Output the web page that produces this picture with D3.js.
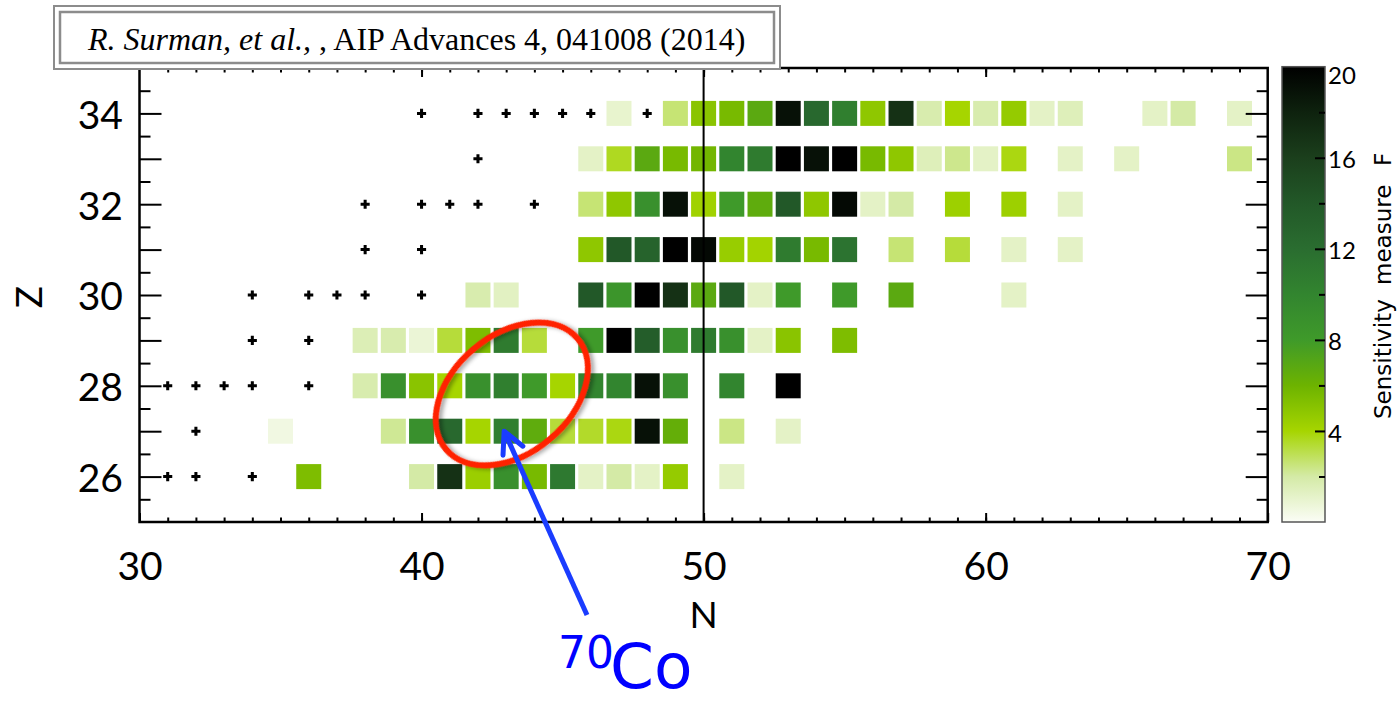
<!DOCTYPE html>
<html>
<head>
<meta charset="utf-8">
<style>
  body { margin: 0; background: #fff; }
  svg text { font-family: Lato, "DejaVu Sans", sans-serif; fill: #000; }
</style>
</head>
<body>
<div id="chart"></div>
<script src="https://d3js.org/d3.v7.min.js"></script>
<script>

    // sensitivity measure F, one list per proton number Z, as [N, F]
    var z34 = [[47,1.0],[49,2.6],[50,5.0],[51,5.6],[52,6.8],[53,19],[54,12.5],[55,10.5],[56,4.8],[57,17],
               [58,1.8],[59,4.0],[60,1.8],[61,4.6],[62,1.2],[63,1.5],[66,1.2],[67,2.0],[69,1.2]];
    var z33 = [[46,1.2],[47,3.6],[48,6.8],[49,5.6],[50,5.8],[51,10],[52,10.8],[53,20],[54,19],[55,20],
               [56,5.6],[57,4.8],[58,1.5],[59,2.3],[60,1.2],[61,3.8],[63,1.2],[65,1.2],[69,2.4]];
    var z32 = [[46,2.6],[47,4.8],[48,9],[49,19],[50,4.2],[51,8],[52,6.6],[53,14],[54,4.8],[55,19.5],
               [56,1.2],[57,2.0],[59,4.3],[61,4.3],[63,1.2]];
    var z31 = [[46,4.8],[47,14],[48,13],[49,20],[50,19.5],[51,4.5],[52,4.1],[53,10.8],[54,5.6],[55,11.5],
               [57,2.6],[59,3.3],[61,1.2],[63,1.2]];
    var z30 = [[42,1.8],[43,1.3],[46,14],[47,8.5],[48,20],[49,17],[50,6.8],[51,14],[52,1.2],[53,8],
               [55,8],[57,6.8],[61,1.2]];
    var z29 = [[38,1.6],[39,1.8],[40,0.8],[41,3.3],[42,5.4],[43,10.8],[44,3.3],[46,8],[47,20],[48,13.5],
               [49,9],[50,10.8],[51,9],[52,1.2],[53,5],[55,5.4]];
    var z28 = [[38,1.8],[39,9],[40,5],[41,4],[42,9],[43,10.5],[44,8],[45,4],[46,10],[47,10],
               [48,19],[49,9],[51,10],[53,20]];
    var z27 = [[35,0.5],[39,2.2],[40,9],[41,12.5],[42,4],[43,10.5],[44,6.6],[45,3.3],[46,3.5],[47,3.8],
               [48,19],[49,6.4],[51,2.4],[53,1.2]];
    var z26 = [[36,5.4],[40,2.0],[41,17],[42,4.4],[43,9],[44,5.6],[45,11],[46,1.2],[47,2.0],[48,1.2],
               [49,4.6],[51,1.2]];

    // nuclei marked with a cross, N per Z
    var cross34 = [40,42,43,44,45,46,48];
    var cross33 = [42];
    var cross32 = [38,40,41,42,44];
    var cross31 = [38,40];
    var cross30 = [34,36,37,38,40];
    var cross29 = [34,36];
    var cross28 = [31,32,33,34,36];
    var cross27 = [32];
    var cross26 = [31,32,34];

    var rows = [[34,z34,cross34],[33,z33,cross33],[32,z32,cross32],[31,z31,cross31],[30,z30,cross30],
                [29,z29,cross29],[28,z28,cross28],[27,z27,cross27],[26,z26,cross26]];

    var xTicks = [30, 40, 50, 60, 70];
    var yTicks = [26, 28, 30, 32, 34];
    var barTicks = [4, 8, 12, 16, 20];
    var barStops = [0, 2, 4, 6, 8, 10, 12, 14, 16, 18, 20];
    var barColors = ["#fbfdf6", "#d4eaa6", "#a6d500", "#6db300", "#3f9a2a", "#32852f",
                     "#2a6d30", "#225828", "#1b3f1c", "#0e220e", "#000000"];
    var closedShell = 50;
    var co70 = {n: 43, z: 27};

    var W = 1400, H = 702;
    var pL = 139.5, pR = 1267.7, pT = 68, pB = 522;

    var svg = d3.select("#chart").append("svg")
        .attr("width", W).attr("height", H);
    var defs = svg.append("defs");

    var x = d3.scaleLinear().domain([30, 70]).range([pL, pR]);
    var y = d3.scaleLinear().domain([25, 35]).range([pB, pT]);
    var color = d3.scaleLinear().domain(barStops).range(barColors).clamp(true);

    var cells = [], crosses = [];
    rows.forEach(function(r) {
      r[1].forEach(function(c) { cells.push({z: r[0], n: c[0], f: c[1]}); });
      r[2].forEach(function(n) { crosses.push({z: r[0], n: n}); });
    });

    var cw = 25, ch = 25;

    // cells
    svg.append("g").selectAll("rect")
      .data(cells).enter().append("rect")
        .attr("x", function(d){ return x(d.n) - cw / 2 })
        .attr("y", function(d){ return y(d.z) - ch / 2 })
        .attr("width", cw).attr("height", ch)
        .attr("fill", function(d){ return color(d.f) });

    // crosses
    svg.append("g").selectAll("path")
      .data(crosses).enter().append("path")
        .attr("d", d3.symbol(d3.symbolCross, 46))
        .attr("transform", function(d){ return "translate(" + x(d.n) + "," + y(d.z) + ")" })
        .attr("fill", "#000");

    // N = 50 line
    svg.append("line")
      .attr("x1", x(closedShell)).attr("x2", x(closedShell))
      .attr("y1", pT).attr("y2", pB)
      .attr("stroke", "#000").attr("stroke-width", 2);

    // axes, ticks pointing inward
    function clean(g) {
      g.select(".domain").remove();
      g.selectAll("line").attr("stroke", "#000").attr("stroke-width", 2);
    }
    svg.append("g").attr("transform", "translate(0," + pB + ")")
      .call(d3.axisBottom(x).tickValues(d3.range(31, 70)).tickSize(-4.5).tickFormat(""))
      .call(clean);
    svg.append("g").attr("transform", "translate(0," + pB + ")")
      .call(d3.axisBottom(x).tickValues(xTicks).tickSize(-9).tickPadding(30))
      .call(clean)
      .selectAll("text").attr("font-size", 39);
    svg.append("g").attr("transform", "translate(0," + pT + ")")
      .call(d3.axisTop(x).tickValues(d3.range(31, 70)).tickSize(-4.5).tickFormat(""))
      .call(clean);
    svg.append("g").attr("transform", "translate(0," + pT + ")")
      .call(d3.axisTop(x).tickValues(xTicks.slice(1, -1)).tickSize(-9).tickFormat(""))
      .call(clean);

    svg.append("g").attr("transform", "translate(" + pL + ",0)")
      .call(d3.axisLeft(y).tickValues(d3.range(25.5, 35, 1)).tickSize(-11).tickFormat(""))
      .call(clean);
    svg.append("g").attr("transform", "translate(" + pL + ",0)")
      .call(d3.axisLeft(y).tickValues(d3.range(26, 35)).tickSize(-22)
        .tickFormat(function(d){ return yTicks.indexOf(d) >= 0 ? d : "" }).tickPadding(16.5))
      .call(clean)
      .selectAll("text").attr("font-size", 39).attr("dy", "0.38em");
    svg.append("g").attr("transform", "translate(" + pR + ",0)")
      .call(d3.axisRight(y).tickValues(d3.range(25.5, 35, 0.5).filter(function(d){ return yTicks.indexOf(d) < 0 }))
        .tickSize(-11).tickFormat(""))
      .call(clean);
    svg.append("g").attr("transform", "translate(" + pR + ",0)")
      .call(d3.axisRight(y).tickValues(yTicks).tickSize(-22).tickFormat(""))
      .call(clean);

    // frame
    svg.append("rect")
      .attr("x", pL).attr("y", pT)
      .attr("width", pR - pL).attr("height", pB - pT)
      .attr("fill", "none").attr("stroke", "#000").attr("stroke-width", 2.5);

    // axis titles
    svg.append("text").attr("x", x(50)).attr("y", 628)
      .attr("text-anchor", "middle").attr("font-size", 37).text("N");
    svg.append("text").attr("transform", "translate(42," + (y(30) + 2) + ") rotate(-90)")
      .attr("text-anchor", "middle").attr("font-size", 37).text("Z");

    // colour bar
    var bx = 1282, bw = 43;
    var cb = d3.scaleLinear().domain([0, 20]).range([pB, 66.7]);
    var grad = defs.append("linearGradient")
      .attr("id", "fgrad").attr("x1", 0).attr("x2", 0).attr("y1", 1).attr("y2", 0);
    grad.selectAll("stop").data(barStops).enter().append("stop")
      .attr("offset", function(d){ return d / 20 })
      .attr("stop-color", function(d){ return color(d) });
    svg.append("rect")
      .attr("x", bx).attr("y", cb(20)).attr("width", bw).attr("height", cb(0) - cb(20))
      .attr("fill", "url(#fgrad)").attr("stroke", "#555").attr("stroke-width", 1.5);
    svg.append("g").attr("transform", "translate(" + (bx + bw) + ",0)")
      .call(d3.axisRight(cb).tickValues([2, 6, 10, 14, 18]).tickSize(-6).tickFormat(""))
      .call(clean);
    var cbAxis = svg.append("g").attr("transform", "translate(" + (bx + bw) + ",0)")
      .call(d3.axisRight(cb).tickValues(barTicks).tickSize(-10).tickPadding(3))
      .call(clean);
    cbAxis.selectAll("text").attr("font-size", 24)
      .attr("dy", function(d){ return d === 20 ? "0.72em" : "0.42em" });
    cbAxis.selectAll("line").filter(function(d){ return d === 20 }).remove();

    // colour bar title, wide gaps between the words as in the original
    var cbTitle = svg.append("text").attr("transform", "translate(1391,0) rotate(-90)")
      .style("font-family", "'DejaVu Sans', sans-serif").attr("font-size", 23);
    [["Sensitivity", 419], ["measure", 285], ["F", 166]].forEach(function(w) {
      cbTitle.append("tspan").attr("x", -w[1]).attr("y", 0).text(w[0]);
    });

    // citation box
    var box = svg.append("g");
    box.append("rect").attr("x", 54).attr("y", 6).attr("width", 726).attr("height", 63)
      .attr("fill", "#fff").attr("stroke", "#8c8c8c").attr("stroke-width", 2);
    box.append("rect").attr("x", 60).attr("y", 12).attr("width", 714).attr("height", 51)
      .attr("fill", "none").attr("stroke", "#8c8c8c").attr("stroke-width", 2.5);
    var cite = box.append("text").attr("x", 88).attr("y", 50)
      .style("font-family", "'Liberation Serif', 'Times New Roman', serif").attr("font-size", 32);
    cite.append("tspan").attr("font-style", "italic").text("R. Surman, et al.,");
    cite.append("tspan").text(" , AIP Advances 4, 041008 (2014)");

    // annotation: ellipse round the cells near 70Co and arrow to it
    defs.append("filter").attr("id", "shadow").attr("x", "-20%").attr("y", "-20%")
        .attr("width", "140%").attr("height", "140%")
      .append("feDropShadow").attr("dx", 2).attr("dy", 3).attr("stdDeviation", 2)
        .attr("flood-color", "#000").attr("flood-opacity", 0.35);
    svg.append("ellipse")
      .attr("transform", "translate(" + x(43.2) + "," + y(27.82) + ") rotate(-40)")
      .attr("rx", 86).attr("ry", 59)
      .attr("fill", "none").attr("stroke", "#ff2400").attr("stroke-width", 6)
      .attr("filter", "url(#shadow)");

    var tipX = x(co70.n) - 2, tipY = y(co70.z);
    var sx = 587, sy = 615;
    var ang = Math.atan2(sy - tipY, sx - tipX), arm = 24, spread = 27 * Math.PI / 180;
    var blue = "#1a3cff";
    svg.append("line").attr("x1", sx).attr("y1", sy).attr("x2", tipX).attr("y2", tipY)
      .attr("stroke", blue).attr("stroke-width", 5);
    svg.append("path")
      .attr("d", "M" + (tipX + arm * Math.cos(ang + spread)) + "," + (tipY + arm * Math.sin(ang + spread)) +
                 "L" + tipX + "," + tipY +
                 "L" + (tipX + arm * Math.cos(ang - spread)) + "," + (tipY + arm * Math.sin(ang - spread)))
      .attr("fill", "none").attr("stroke", blue).attr("stroke-width", 5)
      .attr("stroke-linecap", "round").attr("stroke-linejoin", "round");

    svg.append("text").attr("x", 558).attr("y", 668)
      .style("font-family", "'DejaVu Sans', sans-serif").style("fill", "#0000ff")
      .attr("font-size", 44).text("70");
    svg.append("text").attr("x", 610).attr("y", 688)
      .style("font-family", "'DejaVu Sans', sans-serif").style("fill", "#0000ff")
      .attr("font-size", 63).text("Co");

</script>
</body>
</html>
